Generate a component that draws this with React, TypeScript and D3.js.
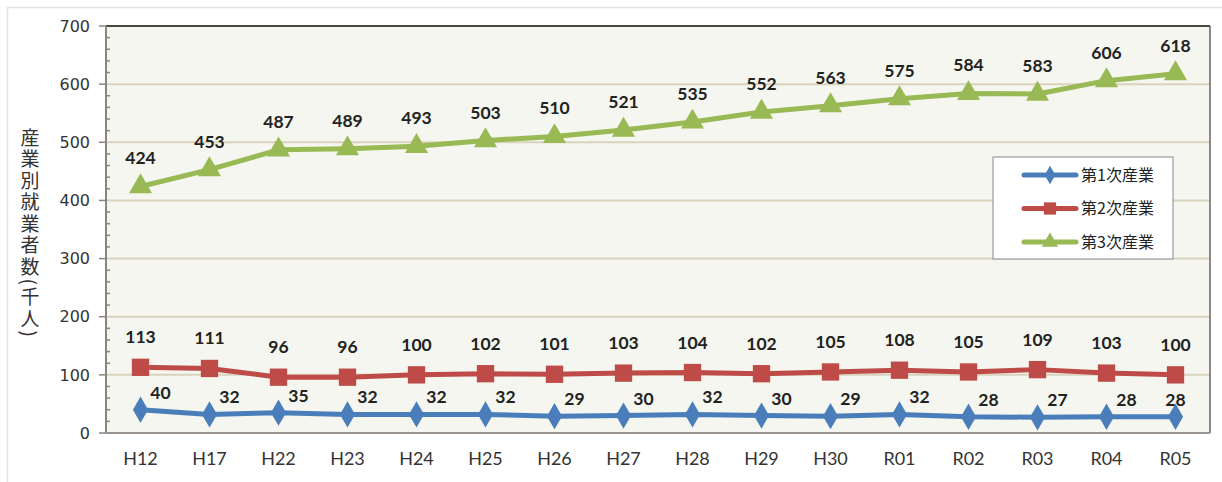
import React from "react";
import * as d3 from "d3";

const categories = ["H12","H17","H22","H23","H24","H25","H26","H27","H28","H29","H30","R01","R02","R03","R04","R05"];
const primary = [40,32,35,32,32,32,29,30,32,30,29,32,28,27,28,28];
const secondary = [113,111,96,96,100,102,101,103,104,102,105,108,105,109,103,100];
const tertiary = [424,453,487,489,493,503,510,521,535,552,563,575,584,583,606,618];
const yTicks = [0,100,200,300,400,500,600,700];
const seriesNames = ["第1次産業","第2次産業","第3次産業"];

const W = 1222, H = 482;
const L = 106, R = 1210, T = 26, B = 433;

export default function App() {
  const x = d3.scalePoint<string>().domain(categories).range([L, R]).padding(0.5);
  const y = d3.scaleLinear().domain([0, 700]).range([B, T]);
  const line = d3.line<number>().x((_, i) => x(categories[i])!).y(d => y(d));
  const minor = d3.range(0, 701, 20).filter(v => v % 100 !== 0);

  const series = [
    { name: seriesNames[0], data: primary, color: "#4a7ebb", marker: "diamond" },
    { name: seriesNames[1], data: secondary, color: "#be4b48", marker: "square" },
    { name: seriesNames[2], data: tertiary, color: "#98b954", marker: "triangle" },
  ];

  const sym = (m: string, size: number) => {
    const t = m === "diamond" ? d3.symbolDiamond : m === "square" ? d3.symbolSquare : d3.symbolTriangle;
    return d3.symbol().type(t).size(size)()!;
  };
  const markerSize: Record<string, number> = { diamond: 200, square: 300, triangle: 230 };

  const labelFont = "Lato, 'Open Sans', sans-serif";

  return (
    <svg width={W} height={H} style={{ position: "absolute", left: 0, top: 0, background: "#fff" }}>
      <rect x={7.5} y={7.5} width={W} height={H} fill="#fff" stroke="#e2e2e2" strokeWidth={1.5} />
      <rect x={L} y={T} width={R - L} height={B - T} fill="#f4f6ef" />
      {yTicks.filter(v => v > 0 && v < 700).map(v => (
        <line key={v} x1={L} x2={R} y1={y(v)} y2={y(v)} stroke="#d9d3bd" strokeWidth={2} />
      ))}
      <line x1={L} x2={R} y1={T} y2={T} stroke="#4a4540" strokeWidth={2} />
      <line x1={R} x2={R} y1={T} y2={B} stroke="#6a6560" strokeWidth={1.5} />
      <line x1={L} x2={L} y1={T} y2={B} stroke="#8a8580" strokeWidth={2} />
      <line x1={L} x2={R} y1={B} y2={B} stroke="#9a9590" strokeWidth={2} />
      {yTicks.map(v => (
        <g key={v}>
          <line x1={L - 7} x2={L} y1={y(v)} y2={y(v)} stroke="#8a8580" strokeWidth={1.5} />
          <text x={90} y={y(v)} dy="0.36em" textAnchor="end" fontFamily="'DejaVu Sans', sans-serif" fontSize={16} fill="#333">{v}</text>
        </g>
      ))}
      {minor.map(v => (
        <line key={v} x1={L} x2={L + 4} y1={y(v)} y2={y(v)} stroke="#8a8580" strokeWidth={1.5} />
      ))}
      {categories.map(c => (
        <text key={c} x={x(c)} y={465} textAnchor="middle" fontFamily={labelFont} fontSize={18} fill="#333">{c}</text>
      ))}
      <text x={30} y={128} fontFamily="'Noto Sans CJK JP', sans-serif" fontSize={19} letterSpacing={2.5} fill="#333"
        style={{ writingMode: "vertical-rl" } as any} textAnchor="start">産業別就業者数(千人)</text>
      {series.map(s => (
        <g key={s.name}>
          <path d={line(s.data)!} fill="none" stroke={s.color} strokeWidth={5} strokeLinejoin="round" />
          {s.data.map((d, i) => (
            <path key={i} d={sym(s.marker, markerSize[s.marker])} transform={`translate(${x(categories[i])},${y(d)})`} fill={s.color} />
          ))}
        </g>
      ))}
      {tertiary.map((d, i) => (
        <text key={"t" + i} x={x(categories[i])} y={y(d) - 22} textAnchor="middle" fontFamily={labelFont} fontWeight="bold" fontSize={17.5} fill="#222">{d}</text>
      ))}
      {secondary.map((d, i) => (
        <text key={"s" + i} x={x(categories[i])} y={y(d) - 24} textAnchor="middle" fontFamily={labelFont} fontWeight="bold" fontSize={17.5} fill="#222">{d}</text>
      ))}
      {primary.map((d, i) => (
        <text key={"p" + i} x={x(categories[i])! + (i === primary.length - 1 ? 0 : 20)} y={y(d) - 11} textAnchor="middle" fontFamily={labelFont} fontWeight="bold" fontSize={17.5} fill="#222">{d}</text>
      ))}
      <rect x={993} y={157} width={180} height={102} fill="#fff" stroke="#8a8a8a" strokeWidth={1} />
      {series.map((s, i) => {
        const ly = 175 + i * 33.5;
        return (
          <g key={"lg" + i}>
            <line x1={1024} x2={1076} y1={ly} y2={ly} stroke={s.color} strokeWidth={5} strokeLinecap="round" />
            <path d={sym(s.marker, markerSize[s.marker] * 0.5)} transform={`translate(1050,${ly})`} fill={s.color} />
            <text x={1081} y={ly} dy="0.36em" fontFamily="'Noto Sans CJK JP', sans-serif" fontSize={16} fill="#222">{s.name}</text>
          </g>
        );
      })}
    </svg>
  );
}
